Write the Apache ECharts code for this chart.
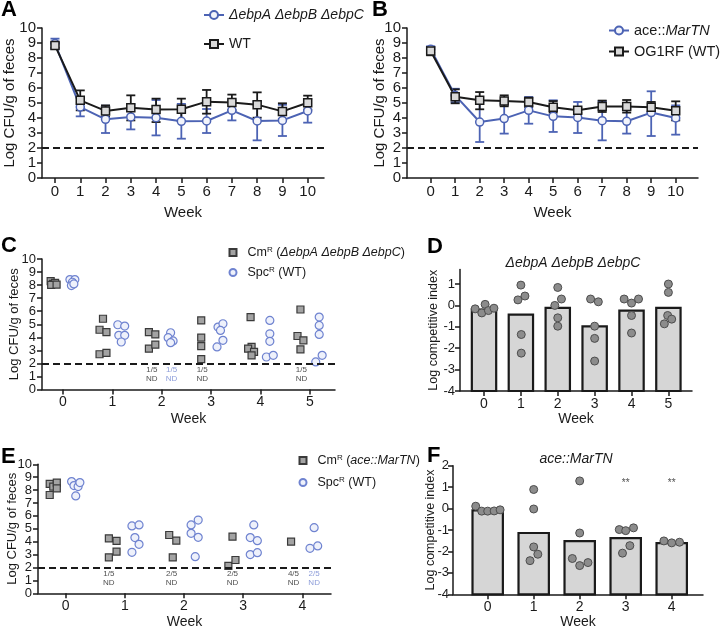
<!DOCTYPE html>
<html lang="en">
<head>
<meta charset="utf-8">
<title>Fecal colonization and competitive index</title>
<script src="https://cdn.jsdelivr.net/npm/echarts@6.0.0/dist/echarts.min.js"></script>
<style>
  html, body { margin: 0; background: #fff; }
  #chart { width: 720px; height: 632px; }
</style>
</head>
<body>
<div id="chart"></div>
<script>
// ---- data ----
const weeksAB = [0, 1, 2, 3, 4, 5, 6, 7, 8, 9, 10];
const weeksCD = [0, 1, 2, 3, 4, 5];
const weeksEF = [0, 1, 2, 3, 4];
const cfuTicks = [0, 1, 2, 3, 4, 5, 6, 7, 8, 9, 10];
const ciTicksD = [-4, -3, -2, -1, 0, 1];
const ciTicksF = [-4, -3, -2, -1, 0, 1, 2];
const detectionLimit = 2;
const barBase = -4;

// A: mean +/- SD
const ebpMeanA = [8.96, 4.73, 3.91, 4.07, 4.02, 3.78, 3.80, 4.51, 3.80, 3.84, 4.47];
const ebpLowA = [8.62, 4.11, 3.00, 3.24, 2.84, 2.62, 3.00, 3.84, 2.51, 2.80, 3.69];
const ebpHighA = [9.29, 5.35, 4.82, 4.90, 5.20, 4.94, 4.60, 5.18, 5.09, 4.88, 5.25];
const wtMeanA = [8.84, 5.18, 4.47, 4.69, 4.56, 4.58, 5.09, 5.04, 4.89, 4.44, 5.02];
const wtLowA = [8.70, 4.51, 4.07, 3.84, 3.73, 3.80, 4.29, 4.53, 4.02, 3.93, 4.56];
const wtHighA = [9.00, 5.84, 4.84, 5.51, 5.29, 5.29, 5.87, 5.56, 5.71, 4.98, 5.49];

// B: mean +/- SD
const aceMeanB = [8.58, 5.51, 3.73, 3.96, 4.51, 4.11, 4.04, 3.82, 3.78, 4.36, 4.00];
const aceLowB = [8.36, 5.05, 2.40, 2.96, 3.62, 3.07, 3.00, 2.51, 2.96, 2.80, 2.89];
const aceHighB = [8.78, 5.95, 5.06, 4.96, 5.40, 5.18, 5.07, 5.13, 4.62, 5.78, 4.84];
const wtMeanB = [8.47, 5.42, 5.18, 5.13, 5.07, 4.71, 4.51, 4.76, 4.76, 4.71, 4.49];
const wtLowB = [8.18, 4.98, 4.58, 4.78, 4.73, 4.36, 4.33, 4.40, 4.36, 4.36, 3.84];
const wtHighB = [8.73, 5.91, 5.73, 5.51, 5.36, 5.13, 4.69, 5.16, 5.20, 5.07, 5.11];

// C: individual mice [week (jittered), log CFU]
const cmPointsC = [
  [-0.25, 8.30], [-0.20, 8.10], [-0.16, 8.17], [-0.24, 8.02], [-0.13, 8.04],
  [0.74, 4.58], [0.81, 5.42], [0.88, 4.40], [0.74, 2.70], [0.88, 2.80],
  [1.74, 4.40], [1.87, 4.22], [1.74, 3.13], [1.87, 3.44],
  [2.80, 5.29], [2.80, 3.97], [2.80, 3.33], [2.80, 2.32],
  [3.80, 5.55], [3.82, 3.26], [3.75, 3.13], [3.87, 2.88], [3.82, 2.62],
  [4.81, 6.13], [4.75, 4.10], [4.87, 3.77], [4.81, 3.08]
];
const spcPointsC = [
  [0.14, 8.42], [0.24, 8.42], [0.19, 8.22], [0.17, 7.96], [0.22, 8.09],
  [1.11, 4.96], [1.25, 4.86], [1.13, 4.15], [1.25, 4.15], [1.18, 3.64],
  [2.18, 4.35], [2.13, 3.97], [2.23, 3.72], [2.18, 3.59],
  [3.14, 4.78], [3.24, 5.04], [3.19, 4.53], [3.24, 3.77], [3.12, 3.26],
  [4.19, 5.29], [4.19, 4.27], [4.19, 3.69], [4.12, 2.49], [4.26, 2.62],
  [5.19, 5.55], [5.19, 4.91], [5.19, 4.22], [5.25, 2.62], [5.12, 2.11]
];
const ndCmC = [[1.80, '1/5'], [2.82, '1/5'], [4.83, '1/5']];
const ndSpcC = [[2.20, '1/5']];

// D: competitive index
const ciMeanD = [-0.19, -0.43, -0.11, -0.98, -0.24, -0.11];
const ciPointsD = [
  [-0.24, -0.16], [-0.06, -0.35], [0.03, 0.05], [0.12, -0.24], [0.27, -0.13],
  [1.00, 0.95], [0.92, 0.26], [1.11, 0.44], [1.01, -1.36], [1.01, -2.23],
  [2.00, 0.84], [2.10, 0.30], [1.92, 0.00], [2.00, -0.58], [2.00, -0.97],
  [2.89, 0.30], [3.10, 0.17], [3.00, -0.97], [3.00, -1.54], [3.00, -2.60],
  [3.80, 0.30], [4.00, 0.11], [4.19, 0.30], [4.00, -0.47], [4.00, -1.29],
  [5.00, 1.00], [5.00, 0.61], [4.98, -0.47], [5.09, -0.64], [4.89, -0.86]
];

// E: individual mice
const cmPointsE = [
  [-0.27, 8.48], [-0.21, 8.27], [-0.15, 8.58], [-0.15, 8.14], [-0.27, 7.62],
  [0.73, 4.26], [0.86, 4.06], [0.86, 3.23], [0.73, 2.79],
  [1.75, 4.52], [1.87, 4.08], [1.81, 2.79],
  [2.82, 4.39], [2.75, 2.12], [2.87, 2.58],
  [3.81, 4.00]
];
const spcPointsE = [
  [0.10, 8.66], [0.14, 8.35], [0.21, 8.27], [0.24, 8.58], [0.17, 7.55],
  [1.12, 5.22], [1.24, 5.30], [1.17, 4.32], [1.24, 3.80], [1.12, 3.18],
  [2.12, 5.30], [2.24, 5.68], [2.12, 4.65], [2.24, 4.34], [2.19, 2.84],
  [3.18, 5.30], [3.12, 4.32], [3.24, 4.08], [3.12, 3.00], [3.24, 3.15],
  [4.20, 5.09], [4.13, 3.49], [4.26, 3.67]
];
const ndCmE = [[0.73, '1/5'], [1.79, '2/5'], [2.82, '2/5'], [3.85, '4/5']];
const ndSpcE = [[4.20, '2/5']];

// F: competitive index
const ciMeanF = [-0.08, -1.14, -1.52, -1.38, -1.61];
const ciPointsF = [
  [-0.26, 0.11], [-0.13, -0.12], [0.00, -0.12], [0.14, -0.11], [0.27, -0.06],
  [1.00, 0.89], [1.00, -0.02], [1.00, -1.79], [1.09, -2.13], [0.92, -2.43],
  [2.00, 1.29], [2.00, -1.14], [1.84, -2.33], [2.00, -2.66], [2.18, -2.52],
  [2.86, -0.98], [3.00, -1.03], [3.17, -0.90], [3.09, -1.73], [2.93, -2.08],
  [3.83, -1.51], [4.00, -1.60], [4.17, -1.57]
];
const sigF = [[3, 1.2, '**'], [4, 1.2, '**']];

// ---- styling ----
const ink = '#1a1a1a';
const blue = '#4c63b4';
const ringBlue = '#6f83d0';
const ff = '"Liberation Sans", Arial, sans-serif';
const ndY = 1.15;

const legendNames = {
  ebpA: '{i|ΔebpA ΔebpB ΔebpC}',
  wtA: 'WT',
  aceB: 'ace::{i|MarTN}',
  wtB: 'OG1RF (WT)',
  cmC: 'Cm{sup|R} ({i|ΔebpA ΔebpB ΔebpC})',
  spcC: 'Spc{sup|R} (WT)',
  cmE: 'Cm{sup|R} ({i|ace::MarTN})',
  spcE: 'Spc{sup|R} (WT)'
};

function richFor(size) {
  return {
    i: { fontStyle: 'italic', fontSize: size, fontFamily: ff, color: ink },
    sup: { fontSize: Math.round(size * 0.62), fontFamily: ff, color: ink, verticalAlign: 'top' }
  };
}

function legendAt(names, left, top, gap, size, w, h, textShift) {
  return {
    data: names, left, top, orient: 'vertical', itemGap: gap,
    itemWidth: w, itemHeight: h, padding: 0, selectedMode: false,
    formatter: (n) => legendNames[n],
    textStyle: {
      color: ink, fontSize: size, fontFamily: ff, rich: richFor(size),
      padding: [0, 0, 0, textShift || 0]
    }
  };
}

function xAxisAt(gridIndex, min, max, ticks, size, gap) {
  return {
    type: 'value', gridIndex, min, max,
    name: 'Week', nameLocation: 'middle', nameGap: gap, nameMoveOverlap: false,
    nameTextStyle: { color: ink, fontSize: size, fontFamily: ff },
    axisLine: { onZero: false, lineStyle: { color: ink, width: 1.5 } },
    axisTick: { customValues: ticks, length: 5, lineStyle: { color: ink, width: 1.5 } },
    axisLabel: { customValues: ticks, color: ink, fontSize: size, fontFamily: ff, margin: 6 },
    splitLine: { show: false }
  };
}

function yAxisAt(gridIndex, min, max, ticks, size, title, titleSize, gap, margin) {
  return {
    type: 'value', gridIndex, min, max,
    name: title, nameLocation: 'middle', nameGap: gap, nameMoveOverlap: false,
    nameTextStyle: { color: ink, fontSize: titleSize, fontFamily: ff },
    axisLine: { onZero: false, lineStyle: { color: ink, width: 1.5 } },
    axisTick: { customValues: ticks, length: 5, lineStyle: { color: ink, width: 1.5 } },
    axisLabel: { customValues: ticks, color: ink, fontSize: size, fontFamily: ff, margin: margin || 6 },
    splitLine: { show: false }
  };
}

function errorBars(color) {
  return function (params, api) {
    const x = api.value(0);
    const lo = api.coord([x, api.value(1)]);
    const hi = api.coord([x, api.value(2)]);
    const cap = 4.5;
    const style = { stroke: color, lineWidth: 1.8 };
    return {
      type: 'group',
      children: [
        { type: 'line', shape: { x1: hi[0], y1: hi[1], x2: lo[0], y2: lo[1] }, style },
        { type: 'line', shape: { x1: hi[0] - cap, y1: hi[1], x2: hi[0] + cap, y2: hi[1] }, style },
        { type: 'line', shape: { x1: lo[0] - cap, y1: lo[1], x2: lo[0] + cap, y2: lo[1] }, style }
      ]
    };
  };
}

function meanBars(params, api) {
  const x = api.value(0);
  const top = api.coord([x, api.value(1)]);
  const base = api.coord([x, barBase]);
  const w = api.size([0.66, 0])[0];
  return {
    type: 'rect',
    shape: { x: top[0] - w / 2, y: top[1], width: w, height: base[1] - top[1] },
    style: { fill: '#d6d6d6', stroke: ink, lineWidth: 2.2 }
  };
}

const limitLine = {
  silent: true, symbol: 'none', animation: false,
  label: { show: false },
  lineStyle: { color: ink, type: [7, 4], width: 1.8 },
  data: [{ yAxis: detectionLimit }]
};

function pairs(xs, ys) { return xs.map((x, i) => [x, ys[i]]); }
function triples(xs, lo, hi) { return xs.map((x, i) => [x, lo[i], hi[i]]); }

function meanLine(name, idx, xs, ys, color, symbol, fill) {
  return {
    name, type: 'line', xAxisIndex: idx, yAxisIndex: idx, data: pairs(xs, ys),
    symbol, symbolSize: 8, z: 4,
    lineStyle: { color, width: 2 },
    itemStyle: { color: fill, borderColor: color, borderWidth: 1.5 }
  };
}

function errSeries(idx, xs, lo, hi, color) {
  return {
    type: 'custom', xAxisIndex: idx, yAxisIndex: idx, z: 3,
    data: triples(xs, lo, hi), renderItem: errorBars(color),
    encode: { x: 0, y: [1, 2] }, silent: true
  };
}

function cmScatter(name, idx, data) {
  return {
    name, type: 'scatter', xAxisIndex: idx, yAxisIndex: idx, data,
    symbol: 'rect', symbolSize: 7,
    itemStyle: { color: '#a3a3a3', borderColor: '#3a3a3a', borderWidth: 1.2, opacity: 1 },
    markLine: limitLine
  };
}

function spcScatter(name, idx, data) {
  return {
    name, type: 'scatter', xAxisIndex: idx, yAxisIndex: idx, data,
    symbol: 'circle', symbolSize: 8,
    itemStyle: { color: '#eef1fb', borderColor: ringBlue, borderWidth: 1.2, opacity: 1 }
  };
}

function textMarks(idx, items, y, color, size, withNd) {
  return {
    type: 'scatter', xAxisIndex: idx, yAxisIndex: idx, silent: true, z: 5,
    symbolSize: 1, itemStyle: { color: 'rgba(0,0,0,0)' },
    data: items.map((d) => ({ value: [d[0], y], name: d[1] })),
    label: {
      show: true, position: 'inside', color, fontSize: size, fontFamily: ff,
      lineHeight: size + 1.5, align: 'center', verticalAlign: 'middle',
      formatter: (p) => withNd ? p.name + '\nND' : p.name
    }
  };
}

function ciPoints(idx, data) {
  return {
    type: 'scatter', xAxisIndex: idx, yAxisIndex: idx, data, z: 4,
    symbol: 'circle', symbolSize: 8,
    itemStyle: { color: '#8c8c8c', borderColor: '#4d4d4d', borderWidth: 1, opacity: 1 }
  };
}

function letter(ch, x, y) {
  return {
    type: 'text', x, y,
    style: { text: ch, font: 'bold 22px ' + ff, fill: '#000', textVerticalAlign: 'middle' }
  };
}

function heading(text, x, y) {
  return {
    type: 'text', x, y,
    style: { text, font: 'italic 14px ' + ff, fill: ink, textAlign: 'center', textVerticalAlign: 'middle' }
  };
}

const chart = echarts.init(document.getElementById('chart'), null, { renderer: 'canvas' });

chart.setOption({
  backgroundColor: '#fff',
  animation: false,
  grid: [
    { left: 42, top: 28, width: 282, height: 150, outerBoundsMode: 'none' },
    { left: 407, top: 28, width: 291, height: 150, outerBoundsMode: 'none' },
    { left: 42, top: 259, width: 293, height: 130.5, outerBoundsMode: 'none' },
    { left: 460, top: 269.5, width: 232, height: 121.5, outerBoundsMode: 'none' },
    { left: 38, top: 464.3, width: 293, height: 129, outerBoundsMode: 'none' },
    { left: 453, top: 465.7, width: 250, height: 128.6, outerBoundsMode: 'none' }
  ],
  xAxis: [
    xAxisAt(0, -0.514, 10.645, weeksAB, 15, 27),
    xAxisAt(1, -0.967, 10.91, weeksAB, 15, 27),
    xAxisAt(2, -0.4255, 5.51, weeksCD, 14, 22.5),
    xAxisAt(3, -0.651, 5.64, weeksCD, 14, 21),
    xAxisAt(4, -0.468, 4.485, weeksEF, 14, 22),
    xAxisAt(5, -0.754, 4.68, weeksEF, 14, 21)
  ],
  yAxis: [
    yAxisAt(0, 0, 10, cfuTicks, 15, 'Log CFU/g of feces', 15, 25),
    yAxisAt(1, 0, 10, cfuTicks, 15, 'Log CFU/g of feces', 15, 20),
    yAxisAt(2, 0, 10, cfuTicks, 13, 'Log CFU/g of feces', 13, 21.5),
    yAxisAt(3, -4, 1.68, ciTicksD, 13, 'Log competitive index', 12.5, 20, 5),
    yAxisAt(4, 0, 10, cfuTicks, 13, 'Log CFU/g of feces', 13, 18.7),
    yAxisAt(5, -4, 2, ciTicksF, 13, 'Log competitive index', 12.5, 16, 4)
  ],
  legend: [
    legendAt(['ebpA', 'wtA'], 203, 8, 15, 14, 20, 10),
    legendAt(['aceB', 'wtB'], 608, 23, 6, 14.5, 20, 10),
    legendAt(['cmC', 'spcC'], 228.5, 246, 7, 12.5, 7, 7, 6),
    legendAt(['cmE', 'spcE'], 298.5, 454, 9, 12.5, 7, 7, 6)
  ],
  graphic: [
    letter('A', 1, 10), letter('B', 372, 10),
    letter('C', 1, 246), letter('D', 427, 247),
    letter('E', 1, 457), letter('F', 427, 456),
    heading('ΔebpA ΔebpB ΔebpC', 573, 263),
    heading('ace::MarTN', 576, 459)
  ],
  series: [
    // A
    Object.assign(meanLine('ebpA', 0, weeksAB, ebpMeanA, blue, 'circle', '#f2f4fb'), { markLine: limitLine }),
    errSeries(0, weeksAB, ebpLowA, ebpHighA, blue),
    meanLine('wtA', 0, weeksAB, wtMeanA, ink, 'rect', '#d9d9d9'),
    errSeries(0, weeksAB, wtLowA, wtHighA, ink),
    // B
    Object.assign(meanLine('aceB', 1, weeksAB, aceMeanB, blue, 'circle', '#f2f4fb'), { markLine: limitLine }),
    errSeries(1, weeksAB, aceLowB, aceHighB, blue),
    meanLine('wtB', 1, weeksAB, wtMeanB, ink, 'rect', '#d9d9d9'),
    errSeries(1, weeksAB, wtLowB, wtHighB, ink),
    // C
    cmScatter('cmC', 2, cmPointsC),
    spcScatter('spcC', 2, spcPointsC),
    textMarks(2, ndCmC, ndY, ink, 8, true),
    textMarks(2, ndSpcC, ndY, ringBlue, 8, true),
    // D
    { type: 'custom', xAxisIndex: 3, yAxisIndex: 3, data: pairs(weeksCD, ciMeanD), renderItem: meanBars, encode: { x: 0, y: 1 }, silent: true },
    ciPoints(3, ciPointsD),
    // E
    cmScatter('cmE', 4, cmPointsE),
    spcScatter('spcE', 4, spcPointsE),
    textMarks(4, ndCmE, ndY, ink, 8, true),
    textMarks(4, ndSpcE, ndY, ringBlue, 8, true),
    // F
    { type: 'custom', xAxisIndex: 5, yAxisIndex: 5, data: pairs(weeksEF, ciMeanF), renderItem: meanBars, encode: { x: 0, y: 1 }, silent: true },
    ciPoints(5, ciPointsF),
    textMarks(5, sigF.map((s) => [s[0], s[2]]), sigF[0][1], ink, 10, false)
  ]
});
</script>
</body>
</html>
